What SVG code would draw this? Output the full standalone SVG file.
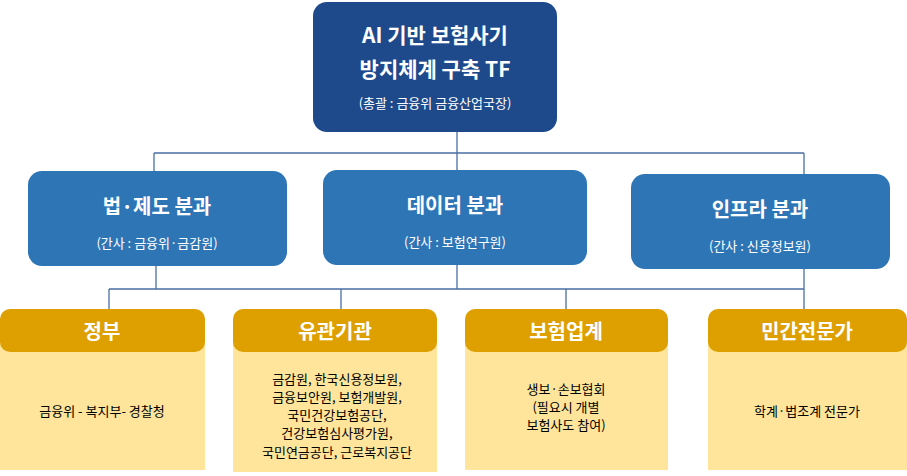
<svg xmlns="http://www.w3.org/2000/svg" width="907" height="476" viewBox="0 0 907 476">
<style>
.t{font-family:"Noto Sans CJK KR","Noto Sans",sans-serif;text-anchor:middle}
.w{fill:#fff}.b{font-weight:bold}
.ln{stroke:#4A6FA5;stroke-width:1.3;fill:none}
.l2{fill:#2E75B6}.hd{fill:#DDA000}.bd{fill:#FEE59B}
</style>
<rect width="907" height="476" fill="#fff"/>
<g id="connectors">
<path class="ln" d="M457 132V153M154 153H804M154 153V171M457 153V170M804 153V174"/>
<path class="ln" d="M156 266V289M457 265V289M804 269V289M109 289H804M109 289V309M341 289V309M566 289V309M804 289V309"/>
</g>
<g id="top">
<rect x="313" y="2" width="244" height="130" rx="14" fill="#1E4A8C"/>
<text class="t w b" x="435" y="43" font-size="21">AI 기반 보험사기</text>
<text class="t w b" x="435" y="77" font-size="21">방지체계 구축 TF</text>
<text class="t w" x="435" y="108" font-size="13">(총괄 : 금융위 금융산업국장)</text>
</g>
<g id="law">
<rect class="l2" x="28" y="171" width="259" height="95" rx="14"/>
<text class="t w b" x="157" y="214" font-size="20">법·제도 분과</text>
<text class="t w" x="157" y="248" font-size="13">(간사 : 금융위·금감원)</text>
</g>
<g id="data">
<rect class="l2" x="323" y="170" width="264" height="95" rx="14"/>
<text class="t w b" x="455" y="213" font-size="20">데이터 분과</text>
<text class="t w" x="455" y="247" font-size="13">(간사 : 보험연구원)</text>
</g>
<g id="infra">
<rect class="l2" x="631" y="174" width="259" height="95" rx="14"/>
<text class="t w b" x="760" y="217" font-size="20">인프라 분과</text>
<text class="t w" x="760" y="251" font-size="13">(간사 : 신용정보원)</text>
</g>
<g id="gov">
<rect class="bd" x="0" y="340" width="205" height="130"/>
<rect class="hd" x="0" y="309" width="205" height="43" rx="10"/>
<text class="t w b" x="102" y="339" font-size="20">정부</text>
<text class="t" x="102" y="416" font-size="13">금융위 - 복지부- 경찰청</text>
</g>
<g id="org">
<rect class="bd" x="233" y="340" width="204" height="132"/>
<rect class="hd" x="233" y="309" width="204" height="43" rx="10"/>
<text class="t w b" x="335" y="339" font-size="20">유관기관</text>
<g class="t" font-size="13">
<text x="337" y="384">금감원, 한국신용정보원,</text>
<text x="337" y="402">금융보안원, 보험개발원,</text>
<text x="337" y="420">국민건강보험공단,</text>
<text x="337" y="438">건강보험심사평가원,</text>
<text x="337" y="457">국민연금공단, 근로복지공단</text>
</g>
</g>
<g id="ins">
<rect class="bd" x="465" y="340" width="203" height="130"/>
<rect class="hd" x="465" y="309" width="203" height="43" rx="10"/>
<text class="t w b" x="566" y="339" font-size="20">보험업계</text>
<g class="t" font-size="13">
<text x="566" y="394">생보·손보협회</text>
<text x="566" y="412">(필요시 개별</text>
<text x="566" y="430">보험사도 참여)</text>
</g>
</g>
<g id="expert">
<rect class="bd" x="708" y="340" width="199" height="130"/>
<rect class="hd" x="708" y="309" width="199" height="43" rx="10"/>
<text class="t w b" x="807" y="339" font-size="20">민간전문가</text>
<text class="t" x="807" y="416" font-size="13">학계·법조계 전문가</text>
</g>
</svg>
